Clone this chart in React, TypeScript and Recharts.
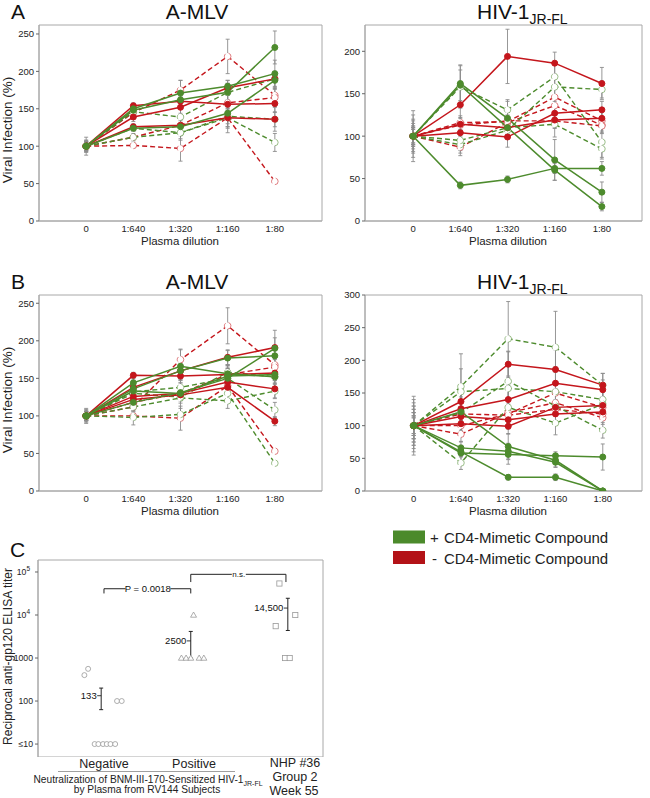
import React from 'react';
import {
  LineChart, Line, XAxis, YAxis, ErrorBar, ReferenceArea, ReferenceLine, ReferenceDot,
  ScatterChart, Scatter,
} from 'recharts';

const FONT = '"Liberation Sans", Arial, Helvetica, sans-serif';
const GREEN = '#4d8b2d';
const RED = '#c4161c';
const FRAME = '#a8a8a8';
const ERRC = '#8c8c8c';

// ---------- categories / ticks ----------
const dilutions = ['0', '1:640', '1:320', '1:160', '1:80'];
const mlvTicks = [0, 50, 100, 150, 200, 250];
const hivATicks = [0, 50, 100, 150, 200];
const hivBTicks = [0, 50, 100, 150, 200, 250, 300];

// ---------- Panel A, A-MLV ----------
const mlvA_gSolid = [[100, 150, 171, 180, 197], [100, 148, 162, 172, 232], [100, 124, 126, 144, 188]];
const mlvA_gSolidErr = [[8, 6, 17, 8, 18], [12, 5, 10, 12, 22], [6, 4, 8, 18, 12]];
const mlvA_rSolid = [[100, 154, 160, 156, 157], [100, 139, 152, 178, 190], [100, 126, 128, 138, 136]];
const mlvA_rSolidErr = [[5, 4, 6, 14, 12], [6, 6, 8, 10, 10], [4, 4, 8, 12, 16]];
const mlvA_rDash = [[100, 145, 175, 220, 168], [100, 101, 97, 138, 53], [100, 112, 128, 158, 165]];
const mlvA_rDashErr = [[6, 6, 13, 23, 10], [8, 3, 17, 20, 0], [4, 0, 8, 10, 12]];
const mlvA_gDash = [[100, 146, 139, 172, 190], [100, 112, 118, 138, 105], [100, 124, 118, 140, 136]];
const mlvA_gDashErr = [[6, 0, 10, 12, 0], [7, 5, 10, 14, 12], [5, 4, 8, 10, 10]];

// ---------- Panel A, HIV-1 JR-FL ----------
const hivA_gSolid = [[100, 162, 121, 72, 34], [100, 160, 110, 60, 17], [100, 42, 49, 62, 62]];
const hivA_gSolidErr = [[30, 22, 20, 24, 12], [20, 18, 10, 12, 5], [15, 4, 4, 6, 8]];
const hivA_rSolid = [[100, 137, 194, 186, 162], [100, 104, 99, 127, 131], [100, 114, 110, 119, 121]];
const hivA_rSolidErr = [[12, 20, 32, 13, 19], [10, 10, 12, 14, 10], [8, 8, 10, 10, 12]];
const hivA_rDash = [[100, 116, 117, 146, 118], [100, 87, 116, 136, 113], [100, 113, 118, 118, 112]];
const hivA_rDashErr = [[10, 8, 8, 12, 12], [12, 10, 12, 10, 10], [8, 8, 10, 8, 8]];
const hivA_gDash = [[100, 158, 131, 170, 93], [100, 90, 107, 158, 155], [100, 95, 110, 114, 85]];
const hivA_gDashErr = [[25, 25, 12, 15, 20], [18, 10, 10, 12, 10], [10, 12, 8, 15, 10]];

// ---------- Panel B, A-MLV ----------
const mlvB_gSolid = [[100, 144, 166, 156, 152], [100, 136, 160, 177, 180], [100, 118, 131, 150, 190], [100, 133, 130, 153, 155]];
const mlvB_gSolidErr = [[10, 5, 22, 12, 10], [6, 6, 12, 10, 12], [5, 4, 8, 10, 14], [4, 4, 6, 10, 8]];
const mlvB_rSolid = [[100, 154, 153, 155, 157], [100, 138, 160, 178, 191], [100, 126, 130, 145, 136], [100, 122, 128, 138, 93]];
const mlvB_rSolidErr = [[6, 4, 6, 8, 10], [8, 5, 10, 10, 23], [5, 5, 8, 10, 12], [4, 4, 8, 10, 6]];
const mlvB_rDash = [[100, 112, 175, 220, 168], [100, 100, 97, 140, 53], [100, 118, 130, 155, 165]];
const mlvB_rDashErr = [[6, 5, 14, 24, 12], [8, 5, 16, 18, 0], [4, 4, 8, 10, 10]];
const mlvB_gDash = [[100, 132, 138, 150, 108], [100, 98, 102, 130, 37], [100, 112, 124, 120, 133], [100, 130, 125, 158, 152]];
const mlvB_gDashErr = [[6, 6, 10, 12, 10], [6, 10, 8, 12, 0], [6, 6, 20, 10, 10], [4, 5, 8, 10, 8]];

// ---------- Panel B, HIV-1 JR-FL ----------
const hivB_gSolid = [[100, 121, 68, 47, 0], [100, 66, 61, 44, 0], [100, 58, 56, 54, 52], [100, 60, 21, 21, 0]];
const hivB_gSolidErr = [[45, 30, 20, 10, 0], [35, 10, 12, 8, 0], [25, 12, 15, 6, 20], [20, 8, 4, 5, 0]];
const hivB_rSolid = [[100, 137, 194, 186, 162], [100, 126, 140, 165, 155], [100, 114, 109, 118, 121], [100, 103, 99, 128, 131]];
const hivB_rSolidErr = [[30, 20, 20, 30, 18], [20, 18, 22, 25, 15], [15, 12, 14, 12, 10], [12, 10, 12, 10, 10]];
const hivB_gDash = [[100, 160, 233, 220, 162], [100, 152, 157, 152, 140], [100, 43, 128, 104, 133], [100, 120, 168, 130, 93]];
const hivB_gDashErr = [[40, 50, 57, 55, 18], [30, 35, 40, 30, 12], [20, 10, 30, 18, 10], [25, 30, 45, 25, 12]];
const hivB_rDash = [[100, 100, 118, 150, 128], [100, 87, 120, 135, 112], [100, 118, 116, 125, 118]];
const hivB_rDashErr = [[15, 12, 15, 15, 10], [15, 12, 12, 12, 10], [12, 10, 10, 10, 8]];

// ---------- Panel C ----------
const negX = [0.83, 0.87, 1.18, 1.23, 0.94, 0.98, 1.03, 1.07, 1.11, 1.16];
const negTiter = [400, 560, 100, 100, 10, 10, 10, 10, 10, 10];
const posX = [1.87, 1.92, 1.97, 2.06, 2.11, 2.0];
const posTiter = [1000, 1000, 1000, 1000, 1000, 10000];
const nhpX = [2.92, 2.88, 3.09, 2.98, 3.03];
const nhpTiter = [54000, 5500, 10000, 1000, 1000];
const meanX = [1.01, 1.97, 3.01];
const meanTiter = [133, 2500, 14500];
const meanLow = [63, 1000, 4370];
const meanHigh = [200, 4150, 24500];
const meanLabels = ['133', '2500', '14,500'];
const cTicks = [10, 100, 1000, 10000, 100000];

type Series = { key: string; vals: number[]; err: number[]; color: string; dashed: boolean };

function group(prefix: string, vals: number[][], errs: number[][], color: string, dashed: boolean): Series[] {
  return vals.map((v, i) => ({ key: `${prefix}${i}`, vals: v, err: errs[i], color, dashed }));
}

function DilutionChart(props: {
  left: number; top: number; plotW: number; yMax: number; yTicks: number[];
  xDomain: [number, number]; series: Series[];
}) {
  const { left, top, plotW, yMax, yTicks, xDomain, series } = props;
  const data = dilutions.map((_, i) => {
    const row: any = { x: i };
    series.forEach((s) => {
      row[s.key] = s.vals[i];
      row[s.key + 'e'] = s.err[i];
    });
    return row;
  });
  const dashed = series.filter((s) => s.dashed);
  const solid = series.filter((s) => !s.dashed);
  const tickStyle = { fontSize: 9.5, fill: '#222', fontFamily: FONT };
  return (
    <div style={{ position: 'absolute', left: left - 39, top: top - 5 }}>
      <LineChart width={plotW + 44} height={221} data={data} margin={{ top: 5, right: 5, left: 0, bottom: 0 }}>
        <XAxis type="number" dataKey="x" domain={xDomain} ticks={[0, 1, 2, 3, 4]} interval={0}
          tickFormatter={(v: number) => dilutions[v]} allowDataOverflow height={20}
          axisLine={{ stroke: FRAME }} tickLine={false} tickSize={0} tickMargin={4} tick={tickStyle} />
        <YAxis type="number" domain={[0, yMax]} ticks={yTicks} interval={0} allowDataOverflow width={39}
          axisLine={{ stroke: FRAME }} tickSize={3} tickLine={{ stroke: '#666' }} tickMargin={2} tick={tickStyle} />
        <ReferenceArea x1={xDomain[0]} x2={xDomain[1]} y1={0} y2={yMax} fill="none" stroke={FRAME} strokeWidth={1} />
        {series.map((s) => (
          <Line key={'eb' + s.key} dataKey={s.key} stroke="none" dot={false} activeDot={false} isAnimationActive={false} legendType="none">
            <ErrorBar dataKey={s.key + 'e'} direction="y" width={2} stroke={ERRC} strokeWidth={0.9} isAnimationActive={false} />
          </Line>
        ))}
        {dashed.map((s) => (
          <Line key={s.key} dataKey={s.key} stroke={s.color} strokeWidth={1.4} strokeDasharray="5 3"
            dot={{ r: 3.3, fill: '#fff', stroke: s.color, strokeOpacity: 0.55, strokeWidth: 1 }}
            activeDot={false} isAnimationActive={false} />
        ))}
        {solid.map((s) => (
          <Line key={s.key} dataKey={s.key} stroke={s.color} strokeWidth={1.5}
            dot={{ r: 3, fill: s.color, stroke: s.color, strokeWidth: 1 }}
            activeDot={false} isAnimationActive={false} />
        ))}
      </LineChart>
    </div>
  );
}

const CTick = (props: any) => {
  const { x, y, payload } = props;
  const v = payload.value;
  const common = { x, y, dy: 3.3, textAnchor: 'end' as const, fontSize: 8.7, fill: '#222', fontFamily: FONT };
  if (v === 10000 || v === 100000) {
    return (
      <text {...common} x={x - 3}>
        <tspan>10</tspan>
        <tspan dy={-4.5} fontSize={6.5}>{v === 10000 ? '4' : '5'}</tspan>
      </text>
    );
  }
  const label = v === 10 ? '≤10' : String(v);
  return <text {...common}>{label}</text>;
};

const circleShape = (p: any) => <circle cx={p.cx} cy={p.cy} r={2.5} fill="#fff" stroke="#999" strokeWidth={0.8} />;
const triShape = (p: any) => (
  <polygon points={`${p.cx},${p.cy - 3} ${p.cx - 3},${p.cy + 2.2} ${p.cx + 3},${p.cy + 2.2}`} fill="#fff" stroke="#999" strokeWidth={0.8} />
);
const sqShape = (p: any) => <rect x={p.cx - 2.6} y={p.cy - 2.6} width={5.2} height={5.2} fill="#fff" stroke="#999" strokeWidth={0.8} />;
const meanShape = (p: any) => (
  <g>
    <line x1={p.cx - 4} x2={p.cx} y1={p.cy} y2={p.cy} stroke="#222" strokeWidth={0.9} />
    <text x={p.cx - 4.5} y={p.cy + 3} textAnchor="end" fontSize={9.5} fill="#111" fontFamily={FONT}>{p.payload.label}</text>
  </g>
);

function PanelC() {
  const neg = negX.map((x, i) => ({ x, y: negTiter[i] }));
  const pos = posX.map((x, i) => ({ x, y: posTiter[i] }));
  const nhp = nhpX.map((x, i) => ({ x, y: nhpTiter[i] }));
  const means = meanX.map((x, i) => ({
    x, y: meanTiter[i], err: [meanTiter[i] - meanLow[i], meanHigh[i] - meanTiter[i]], label: meanLabels[i],
  }));
  const xd: [number, number] = [0.333, 3.387];
  const bl = { stroke: '#222', strokeWidth: 1, ifOverflow: 'visible' as const };
  return (
    <div style={{ position: 'absolute', left: 0, top: 555 }}>
      <ScatterChart width={330} height={202} margin={{ top: 5, right: 7, left: 0, bottom: 0 }}>
        <XAxis type="number" dataKey="x" domain={xd} hide allowDataOverflow />
        <YAxis type="number" dataKey="y" scale="log" domain={[5, 190000]} ticks={cTicks} interval={0} allowDataOverflow width={38}
          axisLine={{ stroke: FRAME }} tickSize={3} tickLine={{ stroke: '#666' }} tick={<CTick />} />
        <ReferenceArea x1={xd[0]} x2={xd[1]} y1={5} y2={190000} fill="none" stroke={FRAME} strokeWidth={1} />
        <Scatter data={neg} shape={circleShape} isAnimationActive={false} />
        <Scatter data={pos} shape={triShape} isAnimationActive={false} />
        <Scatter data={nhp} shape={sqShape} isAnimationActive={false} />
        <Scatter data={means} shape={meanShape} isAnimationActive={false}>
          <ErrorBar dataKey="err" direction="y" width={2} stroke="#222" strokeWidth={1} isAnimationActive={false} />
        </Scatter>
        {/* P bracket */}
        <ReferenceLine segment={[{ x: 1.04, y: 40800 }, { x: 1.27, y: 40800 }]} {...bl} />
        <ReferenceLine segment={[{ x: 1.75, y: 40800 }, { x: 1.97, y: 40800 }]} {...bl} />
        <ReferenceLine segment={[{ x: 1.04, y: 40800 }, { x: 1.04, y: 31700 }]} {...bl} />
        <ReferenceLine segment={[{ x: 1.97, y: 40800 }, { x: 1.97, y: 31700 }]} {...bl} />
        <ReferenceDot x={1.51} y={40800} r={0} fill="none" stroke="none" ifOverflow="visible"
          label={{ value: 'P = 0.0018', position: 'center', fontSize: 9.5, fill: '#111', fontFamily: FONT }} />
        {/* n.s. bracket */}
        <ReferenceLine segment={[{ x: 1.97, y: 88300 }, { x: 2.41, y: 88300 }]} {...bl} />
        <ReferenceLine segment={[{ x: 2.56, y: 88300 }, { x: 2.99, y: 88300 }]} {...bl} />
        <ReferenceLine segment={[{ x: 1.97, y: 88300 }, { x: 1.97, y: 58400 }]} {...bl} />
        <ReferenceLine segment={[{ x: 2.99, y: 88300 }, { x: 2.99, y: 58400 }]} {...bl} />
        <ReferenceDot x={2.485} y={88300} r={0} fill="none" stroke="none" ifOverflow="visible"
          label={{ value: 'n.s.', position: 'center', fontSize: 8, fill: '#111', fontFamily: FONT }} />
      </ScatterChart>
    </div>
  );
}

function HivTitle({ x, y }: { x: number; y: number }) {
  return (
    <text x={x} y={y} fontSize={21} fill="#111">
      <tspan>HIV-1</tspan>
      <tspan fontSize={14} dy={5.5}>JR-FL</tspan>
    </text>
  );
}

export default function App() {
  const mlvASeries = [
    ...group('rd', mlvA_rDash, mlvA_rDashErr, RED, true),
    ...group('gd', mlvA_gDash, mlvA_gDashErr, GREEN, true),
    ...group('rs', mlvA_rSolid, mlvA_rSolidErr, RED, false),
    ...group('gs', mlvA_gSolid, mlvA_gSolidErr, GREEN, false),
  ];
  const hivASeries = [
    ...group('rd', hivA_rDash, hivA_rDashErr, RED, true),
    ...group('gd', hivA_gDash, hivA_gDashErr, GREEN, true),
    ...group('rs', hivA_rSolid, hivA_rSolidErr, RED, false),
    ...group('gs', hivA_gSolid, hivA_gSolidErr, GREEN, false),
  ];
  const mlvBSeries = [
    ...group('rd', mlvB_rDash, mlvB_rDashErr, RED, true),
    ...group('gd', mlvB_gDash, mlvB_gDashErr, GREEN, true),
    ...group('rs', mlvB_rSolid, mlvB_rSolidErr, RED, false),
    ...group('gs', mlvB_gSolid, mlvB_gSolidErr, GREEN, false),
  ];
  const hivBSeries = [
    ...group('rd', hivB_rDash, hivB_rDashErr, RED, true),
    ...group('gd', hivB_gDash, hivB_gDashErr, GREEN, true),
    ...group('rs', hivB_rSolid, hivB_rSolidErr, RED, false),
    ...group('gs', hivB_gSolid, hivB_gSolidErr, GREEN, false),
  ];

  return (
    <div style={{ position: 'absolute', left: 0, top: 0, width: 650, height: 798, background: '#fff', fontFamily: FONT, overflow: 'hidden' }}>
      <DilutionChart left={39} top={25} plotW={283} yMax={262} yTicks={mlvTicks} xDomain={[-1, 5]} series={mlvASeries} />
      <DilutionChart left={365} top={25} plotW={277} yMax={231} yTicks={hivATicks} xDomain={[-1.02, 4.85]} series={hivASeries} />
      <DilutionChart left={39} top={295} plotW={283} yMax={261} yTicks={mlvTicks} xDomain={[-1, 5]} series={mlvBSeries} />
      <DilutionChart left={365} top={295} plotW={277} yMax={300} yTicks={hivBTicks} xDomain={[-1.03, 4.83]} series={hivBSeries} />
      <PanelC />

      <svg width={650} height={798} style={{ position: 'absolute', left: 0, top: 0, pointerEvents: 'none' }} fontFamily={FONT}>
        {/* Panel A */}
        <text x={11} y={18.5} fontSize={21} fill="#111">A</text>
        <text x={197} y={18.5} fontSize={21} fill="#111" textAnchor="middle">A-MLV</text>
        <HivTitle x={477} y={18.5} />
        <text transform="translate(12,130) rotate(-90)" fontSize={13.5} fill="#222" textAnchor="middle">Viral Infection (%)</text>
        <text x={180} y={245} fontSize={11.5} fill="#222" textAnchor="middle">Plasma dilution</text>
        <text x={508} y={245} fontSize={11.5} fill="#222" textAnchor="middle">Plasma dilution</text>

        {/* Panel B */}
        <text x={11} y={288.5} fontSize={21} fill="#111">B</text>
        <text x={197} y={288.5} fontSize={21} fill="#111" textAnchor="middle">A-MLV</text>
        <HivTitle x={477} y={288.5} />
        <text transform="translate(12,400) rotate(-90)" fontSize={13.5} fill="#222" textAnchor="middle">Viral Infection (%)</text>
        <text x={180} y={515} fontSize={11.5} fill="#222" textAnchor="middle">Plasma dilution</text>
        <text x={508} y={515} fontSize={11.5} fill="#222" textAnchor="middle">Plasma dilution</text>

        {/* Legend */}
        <rect x={393} y={530.5} width={32} height={13} fill="#4b8a2b" />
        <rect x={393} y={551} width={32} height={13} fill="#b31217" />
        <text x={430} y={543} fontSize={15} fill="#222">+</text>
        <text x={444} y={543} fontSize={15} fill="#222">CD4-Mimetic Compound</text>
        <text x={432} y={563.5} fontSize={15} fill="#222">-</text>
        <text x={444} y={563.5} fontSize={15} fill="#222">CD4-Mimetic Compound</text>

        {/* Panel C */}
        <text x={10} y={556.5} fontSize={21} fill="#111">C</text>
        <text transform="translate(12,656.5) rotate(-90)" fontSize={12} fill="#222" textAnchor="middle">Reciprocal anti-gp120 ELISA titer</text>
        <text x={104} y={768} fontSize={12.5} fill="#222" textAnchor="middle">Negative</text>
        <text x={194} y={768} fontSize={12.5} fill="#222" textAnchor="middle">Positive</text>
        <line x1={58} x2={235} y1={771.5} y2={771.5} stroke="#888" strokeWidth={0.8} />
        <text x={148} y={782.7} fontSize={10.2} fill="#222" textAnchor="middle">
          <tspan>Neutralization of BNM-III-170-Sensitized HIV-1</tspan>
          <tspan fontSize={7} dy={3}>JR-FL</tspan>
        </text>
        <text x={147} y={793} fontSize={10.2} fill="#222" textAnchor="middle">by Plasma from RV144 Subjects</text>
        <text x={295} y={767} fontSize={12.5} fill="#222" textAnchor="middle">NHP #36</text>
        <text x={295} y={781} fontSize={12.5} fill="#222" textAnchor="middle">Group 2</text>
        <text x={294} y={794.5} fontSize={12.5} fill="#222" textAnchor="middle">Week 55</text>
      </svg>
    </div>
  );
}
